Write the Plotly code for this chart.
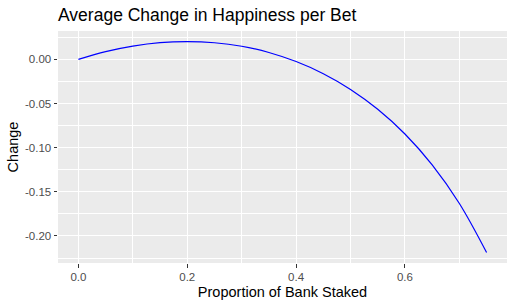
import plotly.graph_objects as go

# Proportion of bank staked and average change in happiness
stake = [0.00, 0.05, 0.10, 0.15, 0.20, 0.25, 0.30, 0.35, 0.40, 0.45, 0.50,
         0.55, 0.60, 0.65, 0.70, 0.75]
change = [0.0000, 0.0088, 0.0150, 0.0189, 0.0201, 0.0188, 0.0148, 0.0078,
          -0.0025, -0.0162, -0.0340, -0.0565, -0.0845, -0.1195, -0.1632, -0.2187]

x_ticks = [0.0, 0.2, 0.4, 0.6]
x_tick_labels = ["0.0", "0.2", "0.4", "0.6"]
y_ticks = [0.00, -0.05, -0.10, -0.15, -0.20]
y_tick_labels = ["0.00", "-0.05", "-0.10", "-0.15", "-0.20"]

font = "Liberation Sans, Arial, Helvetica, sans-serif"

fig = go.Figure()
fig.add_trace(go.Scatter(x=stake, y=change, mode="lines",
                         line=dict(color="#0000FF", width=1.2, shape="spline"),
                         hoverinfo="skip", showlegend=False))

axis_common = dict(
    showgrid=True, gridcolor="white", gridwidth=1.1,
    zeroline=False, showline=False,
    ticks="outside", ticklen=3.5, tickwidth=1, tickcolor="#333333",
    tickfont=dict(family=font, size=11.5, color="#4D4D4D"),
    title_font=dict(family=font, size=14.5, color="black"),
    minor=dict(showgrid=True, gridcolor="white", gridwidth=0.5, ticks=""),
)

fig.update_layout(
    template="none",
    width=515, height=305,
    margin=dict(l=58, r=8, t=31, b=42),
    paper_bgcolor="white", plot_bgcolor="#EBEBEB",
    title=dict(text="Average Change in Happiness per Bet",
               font=dict(family=font, size=17.5, color="black"),
               x=58/515, xanchor="left", y=1-15/305, yanchor="middle"),
    xaxis=dict(axis_common, range=[-0.0375, 0.7875], tickvals=x_ticks,
               ticktext=x_tick_labels, title=dict(text="Proportion of Bank Staked", standoff=4),
               minor_tickvals=[0.1, 0.3, 0.5, 0.7]),
    yaxis=dict(axis_common, range=[-0.2306, 0.0321], tickvals=y_ticks,
               ticktext=y_tick_labels, title=dict(text="Change", standoff=2),
               minor_tickvals=[0.025, -0.025, -0.075, -0.125, -0.175, -0.225]),
)

fig.write_html("out.html")
